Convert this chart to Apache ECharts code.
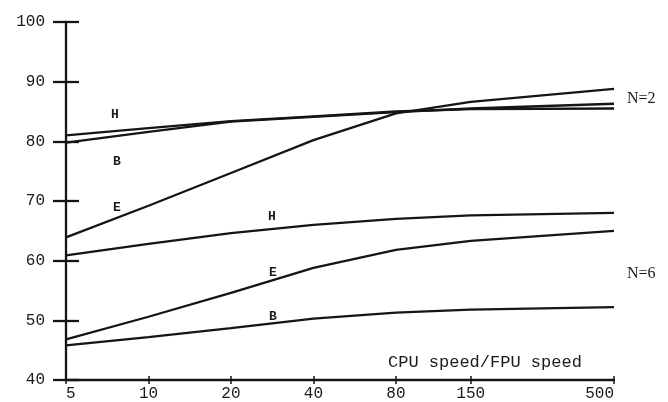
<!DOCTYPE html>
<html>
<head>
<meta charset="utf-8">
<script src="https://cdn.jsdelivr.net/npm/echarts@6/dist/echarts.min.js"></script>
<style>html,body{margin:0;padding:0;background:#fff}#c{width:668px;height:402px}</style>
</head>
<body>
<div id="c"></div>
<script>
// x positions (CPU speed / FPU speed ratio)
const ratios = [5, 10, 20, 40, 80, 150, 500];
const tickLabels = [5, 10, 20, 40, 80, 150, 500];
// N = 2
const n2H = [81.0, 82.2, 83.4, 84.2, 85.0, 85.4, 85.5];
const n2B = [79.8, 81.6, 83.3, 84.1, 84.9, 85.5, 86.3];
const n2E = [63.9, 69.2, 74.7, 80.2, 84.7, 86.6, 88.8];
// N = 6
const n6H = [60.9, 62.8, 64.6, 66.0, 67.0, 67.6, 68.0];
const n6E = [46.8, 50.6, 54.6, 58.8, 61.8, 63.3, 65.0];
const n6B = [45.8, 47.2, 48.7, 50.3, 51.3, 51.8, 52.2];
const yTicks = [40, 50, 60, 70, 80, 90, 100];

const ink = '#151515';
const txt = '#1a1a1a';
const mono = 'Liberation Mono';
function pairs(vals){ return ratios.map((r,i)=>[r, vals[i]]); }
function line(vals){
  return {type:'line', data:pairs(vals), symbol:'none', smooth:false,
    lineStyle:{color:ink, width:2.3}, xAxisIndex:0, yAxisIndex:0, silent:true, z:3};
}
const chart = echarts.init(document.getElementById('c'));
const xBase = {
  type:'log', logBase:10, min:5, max:500, gridIndex:0, position:'bottom',
  splitLine:{show:false}, minorTick:{show:false}, minorSplitLine:{show:false}
};
const yBase = {
  type:'value', min:40, max:100, interval:10, position:'left',
  splitLine:{show:false}
};
chart.setOption({
  animation:false,
  backgroundColor:'#fff',
  grid:{left:66, right:54, top:22, bottom:22, containLabel:false},
  xAxis:[
    Object.assign({}, xBase, {
      axisLine:{show:true, lineStyle:{color:ink, width:2.3}},
      axisTick:{show:true, inside:false, length:4, lineStyle:{color:ink, width:1.5}, customValues:tickLabels},
      axisLabel:{show:true, customValues:tickLabels, margin:6, color:txt, fontFamily:mono, fontSize:16,
        alignMinLabel:'left', alignMaxLabel:'right',
        formatter:v=>String(Math.round(v))}
    }),
    Object.assign({}, xBase, {
      axisLine:{show:false},
      axisTick:{show:true, inside:true, length:4, lineStyle:{color:ink, width:1.5}, customValues:tickLabels},
      axisLabel:{show:false}
    })
  ],
  yAxis:[
    Object.assign({}, yBase, {
      axisLine:{show:true, lineStyle:{color:ink, width:2.3}},
      axisTick:{show:true, inside:false, length:13, lineStyle:{color:ink, width:2.3}},
      axisLabel:{show:true, margin:21, color:txt, fontFamily:mono, fontSize:16}
    }),
    Object.assign({}, yBase, {
      axisLine:{show:false},
      axisTick:{show:true, inside:true, length:13, lineStyle:{color:ink, width:2.3}},
      axisLabel:{show:false}
    })
  ],
  series:[line(n2H), line(n2B), line(n2E), line(n6H), line(n6E), line(n6B)],
  graphic:[
    {type:'text', left:111, top:108, style:{text:'H', font:'bold 13px "Liberation Mono"', fill:txt}},
    {type:'text', left:113, top:155, style:{text:'B', font:'bold 13px "Liberation Mono"', fill:txt}},
    {type:'text', left:113, top:201, style:{text:'E', font:'bold 13px "Liberation Mono"', fill:txt}},
    {type:'text', left:268, top:210, style:{text:'H', font:'bold 13px "Liberation Mono"', fill:txt}},
    {type:'text', left:269, top:266, style:{text:'E', font:'bold 13px "Liberation Mono"', fill:txt}},
    {type:'text', left:269, top:310, style:{text:'B', font:'bold 13px "Liberation Mono"', fill:txt}},
    {type:'text', left:627, top:91, style:{text:'N=2', font:'16px "Liberation Serif"', fill:txt}},
    {type:'text', left:627, top:266, style:{text:'N=6', font:'16px "Liberation Serif"', fill:txt}},
    {type:'text', left:388, top:354, style:{text:'CPU speed/FPU speed', font:'17px "Liberation Mono"', fill:txt}}
  ]
});
</script>
</body>
</html>
